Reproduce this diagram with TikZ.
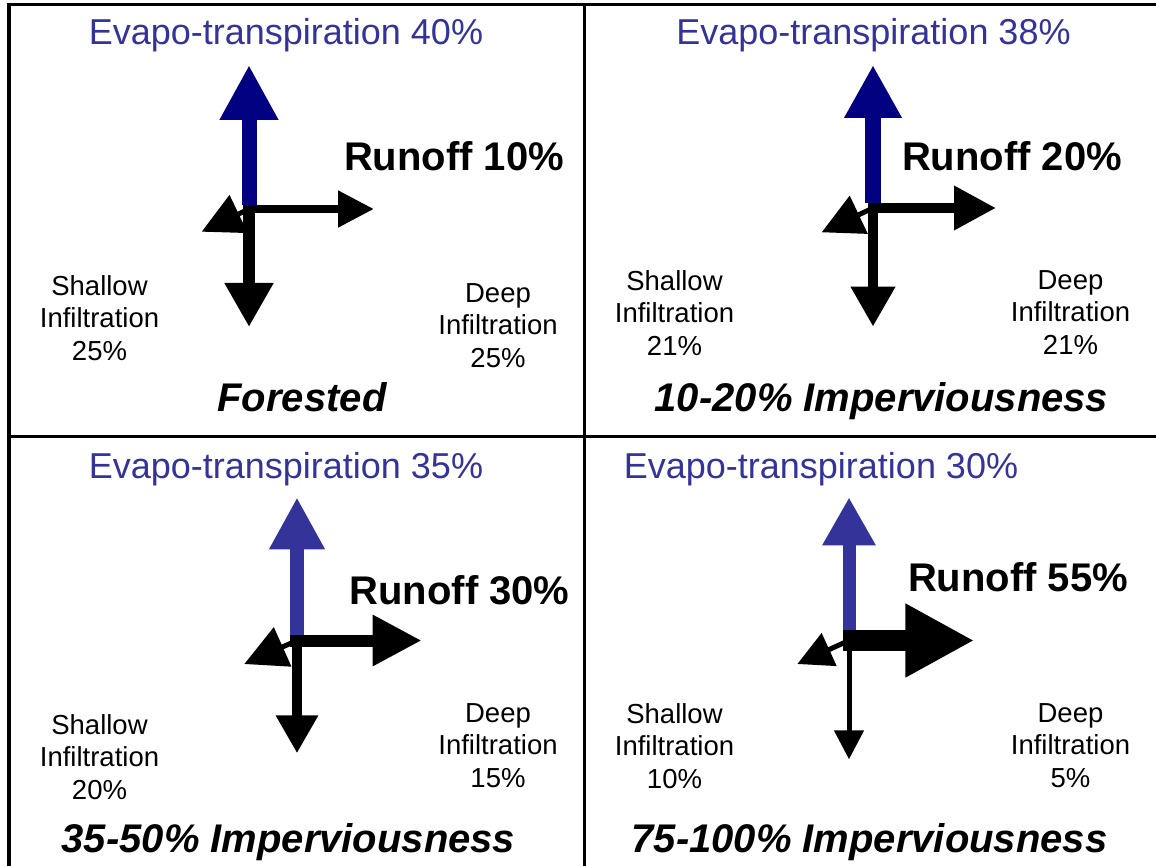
\documentclass[tikz,border=0pt]{standalone}
\usepackage{fontspec}
\setmainfont{Liberation Sans}
\usepackage{xcolor}
\usepackage{tikz}
\usetikzlibrary{arrows.meta}
\definecolor{etnavy}{RGB}{0, 0, 128}
\definecolor{etblue}{RGB}{51, 51, 153}
\tikzset{
  panelline/.style={line width=3.3pt, black},
  flowhead/.style 2 args={-{Triangle[length=#1, width=#2]}},
  etlabel/.style={anchor=base, inner sep=0pt, text=etblue, font=\fontsize{36}{43}\selectfont},
  runofflabel/.style={anchor=base, inner sep=0pt, font=\fontsize{40}{48}\selectfont\bfseries},
  landlabel/.style={anchor=base, inner sep=0pt, font=\fontsize{40}{48}\selectfont\bfseries\itshape},
  pctlabel/.style={anchor=north, inner sep=0pt, align=center, font=\fontsize{27.5}{32.5}\selectfont}
}

\begin{document}
\begin{tikzpicture}[x=1pt, y=-1pt]
    \useasboundingbox (0,0) rectangle (1156,866);
    \draw[panelline, line width=4.3pt] (8.8,2.6) -- (8.8,866);
    \draw[panelline] (6.6,4.3) -- (1156,4.3);
    \draw[panelline, line width=3pt] (584.3,4.3) -- (584.3,866);
    \draw[panelline, line width=3pt] (8.8,436.3) -- (1156,436.3);

    \coordinate (j1) at (249,209);
    \coordinate (et1) at (249,65);
    \coordinate (ro1) at (374,209);
    \coordinate (di1) at (249,327);
    \coordinate (si1) at (201.7,231.7);
    \draw[etnavy, line width=15pt, flowhead={55pt}{55pt}] ([yshift=4pt]j1) -- (et1);
    \draw[line width=8pt, flowhead={36pt}{35pt}] ([xshift=-6pt]j1) -- (ro1);
    \draw[line width=12pt, flowhead={44pt}{46pt}] ([yshift=4pt]j1) -- (di1);
    \draw[line width=5pt, flowhead={41pt}{41pt}] (j1) -- (si1);
    \node[etlabel] (etlbl1) at (286,45) {Evapo-transpiration 40\%};
    \node[runofflabel] (rolbl1) at (454,171) {Runoff 10\%};
    \node[pctlabel] (silbl1) at (99.5,275) {Shallow\\Infiltration\\25\%};
    \node[pctlabel] (dilbl1) at (498,283) {Deep\\Infiltration\\25\%};
    \node[landlabel] (land1) at (302,411) {Forested};

    \coordinate (j2) at (873,208);
    \coordinate (et2) at (873,65);
    \coordinate (ro2) at (996,208);
    \coordinate (di2) at (873,326.7);
    \coordinate (si2) at (821.7,232.3);
    \draw[etnavy, line width=16pt, flowhead={53pt}{54pt}] ([yshift=5pt]j2) -- (et2);
    \draw[line width=10pt, flowhead={42pt}{42pt}] ([xshift=-5pt]j2) -- (ro2);
    \draw[line width=10pt, flowhead={40pt}{42pt}] ([yshift=5pt]j2) -- (di2);
    \draw[line width=5pt, flowhead={41pt}{41pt}] (j2) -- (si2);
    \node[etlabel] (etlbl2) at (873.5,45) {Evapo-transpiration 38\%};
    \node[runofflabel] (rolbl2) at (1012,171) {Runoff 20\%};
    \node[pctlabel] (silbl2) at (674.5,270) {Shallow\\Infiltration\\21\%};
    \node[pctlabel] (dilbl2) at (1070.5,270) {Deep\\Infiltration\\21\%};
    \node[landlabel] (land2) at (881.5,411) {10-20\% Imperviousness};

    \coordinate (j3) at (297,640.5);
    \coordinate (et3) at (297,497.3);
    \coordinate (ro3) at (421.7,640.5);
    \coordinate (di3) at (297,753.3);
    \coordinate (si3) at (244.3,664);
    \draw[etblue, line width=14pt, flowhead={52pt}{52pt}] ([yshift=6pt]j3) -- (et3);
    \draw[line width=12pt, flowhead={49pt}{48pt}] ([xshift=-7pt]j3) -- (ro3);
    \draw[line width=9.5pt, flowhead={38pt}{40pt}] ([yshift=6pt]j3) -- (di3);
    \draw[line width=5pt, flowhead={42pt}{42pt}] (j3) -- (si3);
    \node[etlabel] (etlbl3) at (286,478) {Evapo-transpiration 35\%};
    \node[runofflabel] (rolbl3) at (459.5,604) {Runoff 30\%};
    \node[pctlabel] (silbl3) at (99.5,714) {Shallow\\Infiltration\\20\%};
    \node[pctlabel] (dilbl3) at (498,703) {Deep\\Infiltration\\15\%};
    \node[landlabel] (land3) at (288.5,852) {35-50\% Imperviousness};

    \coordinate (j4) at (849,640.5);
    \coordinate (et4) at (849,497.3);
    \coordinate (ro4) at (974.3,640.5);
    \coordinate (di4) at (849,759.3);
    \coordinate (si4) at (797.3,664);
    \draw[etblue, line width=13pt, flowhead={48pt}{50pt}] ([yshift=10.5pt]j4) -- (et4);
    \draw[line width=21pt, flowhead={69pt}{69pt}] ([xshift=-6.5pt]j4) -- (ro4);
    \draw[line width=5pt, flowhead={29pt}{29pt}] ([yshift=10pt]j4) -- (di4);
    \draw[line width=5pt, flowhead={35pt}{35pt}] (j4) -- (si4);
    \node[etlabel] (etlbl4) at (821,478) {Evapo-transpiration 30\%};
    \node[runofflabel] (rolbl4) at (1018,591) {Runoff 55\%};
    \node[pctlabel] (silbl4) at (674.5,703) {Shallow\\Infiltration\\10\%};
    \node[pctlabel] (dilbl4) at (1070.5,703) {Deep\\Infiltration\\5\%};
    \node[landlabel] (land4) at (869.5,852) {75-100\% Imperviousness};
\end{tikzpicture}
\end{document}
